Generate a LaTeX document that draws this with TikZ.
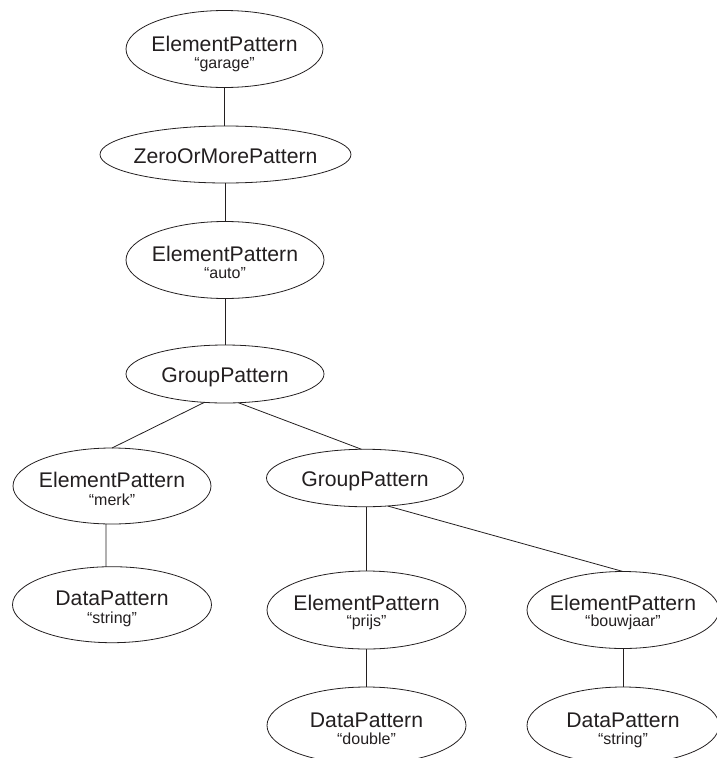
\documentclass[tikz,border=0pt]{standalone}
\usepackage{fontspec}
\setmainfont{Liberation Sans}
\usetikzlibrary{shapes.geometric}
\definecolor{ink}{HTML}{231F20}
\tikzset{
  ell/.style={draw=ink, line width=0.8pt, ellipse, inner sep=0pt, outer sep=0pt},
  conn/.style={draw=ink, line width=0.8pt},
  mainlbl/.style={anchor=base, inner sep=0pt, text=ink, font=\fontsize{21.2}{24}\selectfont},
  sublbl/.style={anchor=base, inner sep=0pt, text=ink, font=\fontsize{16}{18}\selectfont},
}
\begin{document}
\begin{tikzpicture}[x=1pt,y=1pt]
\useasboundingbox (0,0) rectangle (716,-758);
% ellipses
\node[ell, minimum width=197pt, minimum height=77pt] (g1) at (224.5,-49) {};
\node[ell, minimum width=251pt, minimum height=57pt] (z) at (225.5,-154.5) {};
\node[ell, minimum width=198pt, minimum height=77pt] (a) at (225,-260) {};
\node[ell, minimum width=198pt, minimum height=58pt] (gp1) at (225,-374) {};
\node[ell, minimum width=198pt, minimum height=76pt] (merk) at (112,-486) {};
\node[ell, minimum width=197pt, minimum height=57.5pt] (gp2) at (365,-478) {};
\node[ell, minimum width=199pt, minimum height=76pt] (ds1) at (112,-604.7) {};
\node[ell, minimum width=199pt, minimum height=78pt] (prijs) at (366.5,-610) {};
\node[ell, minimum width=192pt, minimum height=77pt] (bw) at (623,-610) {};
\node[ell, minimum width=199pt, minimum height=77pt] (dd) at (366.5,-725.5) {};
\node[ell, minimum width=192pt, minimum height=77pt] (ds2) at (623,-725.5) {};
% labels
\node[mainlbl] (g1m) at ([yshift=-2.5pt]g1.center) {ElementPattern};
\node[sublbl] (g1s) at ([yshift=-19pt]g1.center) {“garage”};
\node[mainlbl] (zm) at ([yshift=-9pt]z.center) {ZeroOrMorePattern};
\node[mainlbl] (am) at ([yshift=-1.5pt]a.center) {ElementPattern};
\node[sublbl] (as) at ([yshift=-18.5pt]a.center) {“auto”};
\node[mainlbl] (gp1m) at ([yshift=-8.5pt]gp1.center) {GroupPattern};
\node[mainlbl] (merkm) at ([yshift=-1pt]merk.center) {ElementPattern};
\node[sublbl] (merks) at ([yshift=-19pt]merk.center) {“merk”};
\node[mainlbl] (gp2m) at ([yshift=-8.5pt]gp2.center) {GroupPattern};
\node[mainlbl] (ds1m) at ([yshift=-1pt]ds1.center) {DataPattern};
\node[sublbl] (ds1s) at ([yshift=-18.5pt]ds1.center) {“string”};
\node[mainlbl] (prijsm) at ([yshift=0pt]prijs.center) {ElementPattern};
\node[sublbl] (prijss) at ([yshift=-16.5pt]prijs.center) {“prijs”};
\node[mainlbl] (bwm) at ([yshift=0pt]bw.center) {ElementPattern};
\node[sublbl] (bws) at ([yshift=-16.5pt]bw.center) {“bouwjaar”};
\node[mainlbl] (ddm) at ([yshift=-2pt]dd.center) {DataPattern};
\node[sublbl] (dds) at ([yshift=-18.5pt]dd.center) {“double”};
\node[mainlbl] (ds2m) at ([yshift=-2pt]ds2.center) {DataPattern};
\node[sublbl] (ds2s) at ([yshift=-18.5pt]ds2.center) {“string”};
% connectors
\draw[conn] (g1.south) -- (g1.south |- z.north);
\draw[conn] (z.south) -- (z.south |- a.north);
\draw[conn] (a.south) -- (a.south |- gp1.north);
\draw[conn] (gp1.-126) -- (merk.north);
\draw[conn] (gp1.-65) -- (gp2.97);
\draw[conn] (merk.-99) -- (ds1.99);
\draw[conn] (gp2.south -| prijs.north) -- (prijs.north);
\draw[conn] (gp2.-51) -- (bw.north);
\draw[conn] (prijs.south) -- (prijs.south |- dd.north);
\draw[conn] (bw.south) -- (bw.south |- ds2.north);
\end{tikzpicture}
\end{document}
